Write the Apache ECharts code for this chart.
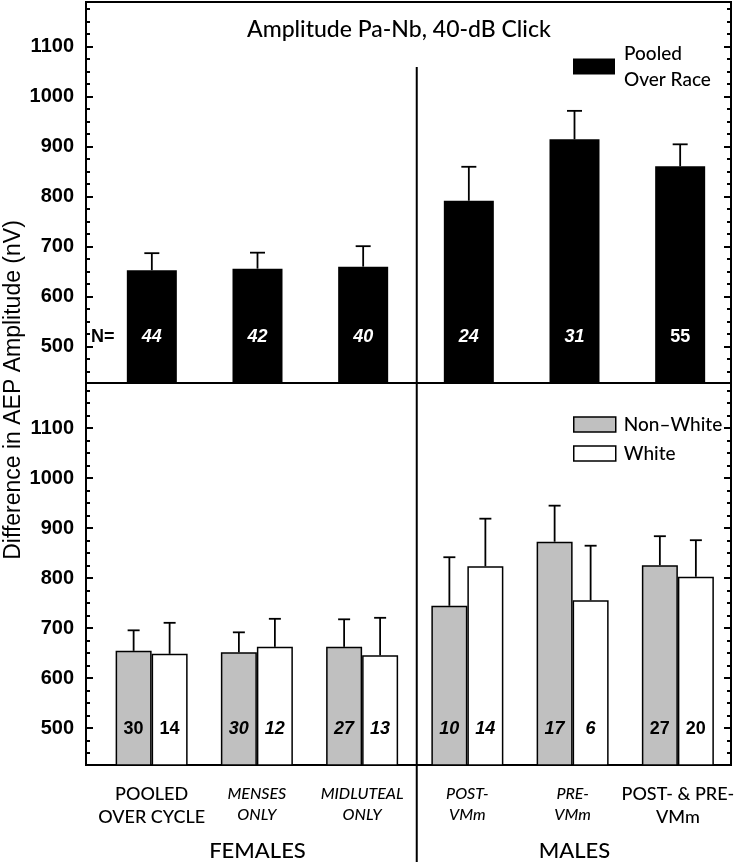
<!DOCTYPE html>
<html><head><meta charset="utf-8">
<script src="https://cdn.jsdelivr.net/npm/echarts@6/dist/echarts.min.js"></script>
<style>html,body{margin:0;padding:0;background:#fff}#c{width:737px;height:862px}</style>
</head><body><div id="c"></div>
<script>
// ---- data ----
const categories = ['POOLED\nOVER CYCLE', 'MENSES\nONLY', 'MIDLUTEAL\nONLY', 'POST-\nVMm', 'PRE-\nVMm', 'POST- & PRE-\nVMm'];
const categoryItalic = [false, true, true, true, true, false];
const groups = ['FEMALES', 'MALES'];

const pooledMean = [653, 656, 660, 792, 915, 861];
const pooledErr  = [34, 32, 41, 68, 57, 44];
const pooledN    = [44, 42, 40, 24, 31, 55];
const pooledNItalic = [true, true, true, true, true, false];

const nonWhiteMean = [655, 652, 663, 745, 873, 826];
const nonWhiteErr  = [41, 40, 55, 97, 72, 58];
const nonWhiteN    = [30, 30, 27, 10, 17, 27];
const whiteMean    = [649, 663, 646, 824, 756, 803];
const whiteErr     = [62, 56, 75, 95, 109, 73];
const whiteN       = [14, 12, 13, 14, 6, 20];
const pairNItalic  = [false, true, true, true, true, false];

const yMajorTicks = [500, 600, 700, 800, 900, 1000, 1100];
const yMinorTicks = [450, 475, 525, 550, 575, 625, 650, 675, 725, 750, 775, 825, 850, 875, 925, 950, 975, 1025, 1050, 1075, 1125, 1150, 1175];
const Y_MIN = 427, Y_MAX = 1190;

const titleText = 'Amplitude Pa-Nb, 40-dB Click';
const yTitle = 'Difference in AEP Amplitude (nV)';

// ---- chart ----
const HELV = "'Liberation Sans', Arial, sans-serif";
const GEO = "Lato, 'Noto Sans', sans-serif";

const chart = echarts.init(document.getElementById('c'), null, {renderer: 'canvas'});

const W = 737;
const FRAME = {left: 86, right: 6};
const DATA = {left: 99, width: 634};
const PANELS = [{top: 2, height: 381}, {top: 383, height: 382}];

const grids = [], xAxes = [], yAxes = [];
function addGrid(g, xOpt, yOpt) {
  grids.push(g);
  const gi = grids.length - 1;
  xAxes.push(Object.assign({type: 'category', gridIndex: gi, data: categories, show: false}, xOpt || {}));
  yAxes.push(Object.assign({type: 'value', gridIndex: gi, min: Y_MIN, max: Y_MAX, show: false}, yOpt || {}));
  return gi;
}

const frameIdx = [], dataIdx = [];
PANELS.forEach(p => {
  frameIdx.push(addGrid(Object.assign({show: true, borderColor: '#000', borderWidth: 2, backgroundColor: 'transparent'}, FRAME, p), null,
    {show: true, position: 'left', splitLine: {show: false}, axisLine: {show: false, onZero: false}, axisTick: {show: false},
     axisLabel: {show: true, customValues: yMajorTicks, formatter: v => String(v), margin: 12, color: '#000', fontFamily: HELV, fontWeight: 'bold', fontSize: 20}}));
  dataIdx.push(addGrid(Object.assign({}, DATA, p)));
});
// category labels on the bottom data grid
Object.assign(xAxes[dataIdx[1]], {show: true, position: 'bottom',
  axisLine: {show: false}, axisTick: {show: false}, splitLine: {show: false},
  axisLabel: {show: true, interval: 0, margin: 18,
    formatter: (v, i) => {
      const key = categoryItalic[i] ? 'it' : 'nm';
      return v.split('\n').map(s => '{' + key + '|' + s + '}').join('\n');
    },
    rich: {
      nm: {fontFamily: GEO, fontSize: 18, fontWeight: 500, lineHeight: 23, color: '#000'},
      it: {fontFamily: GEO, fontSize: 16, fontWeight: 500, fontStyle: 'italic', lineHeight: 21, color: '#000'}
    }}});
// group labels
addGrid(Object.assign({}, DATA, PANELS[1]), {data: groups, show: true, position: 'bottom',
  axisLine: {show: false}, axisTick: {show: false}, splitLine: {show: false},
  axisLabel: {show: true, interval: 0, margin: 75, fontFamily: GEO, fontWeight: 500, fontSize: 22, color: '#000'}});

function errRender(offset, cap) {
  return function (params, api) {
    const i = api.value(0), m = api.value(1), e = api.value(2);
    const p0 = api.coord([i, m]);
    const p1 = api.coord([i, m + e]);
    const x = p0[0] + offset;
    return {type: 'group', children: [
      {type: 'line', shape: {x1: x, y1: p0[1], x2: x, y2: p1[1]}, style: {stroke: '#000', lineWidth: 1.8}},
      {type: 'line', shape: {x1: x - cap / 2, y1: p1[1], x2: x + cap / 2, y2: p1[1]}, style: {stroke: '#000', lineWidth: 1.8}}
    ]};
  };
}
function barData(means, italics) {
  return means.map((v, i) => ({value: v, label: {fontStyle: italics[i] ? 'italic' : 'normal'}}));
}
const nLabel = (arr, color, dist) => ({show: true, position: 'insideBottom', distance: dist, color: color, fontFamily: HELV, fontWeight: 'bold', fontSize: 18,
  formatter: p => String(arr[p.dataIndex])});

const T = dataIdx[0], B = dataIdx[1];
const option = {
  animation: false,
  backgroundColor: '#fff',
  title: {text: titleText, left: 247, top: 18, padding: 0, textStyle: {fontFamily: GEO, fontSize: 23, fontWeight: 500, color: '#000'}},
  grid: grids,
  legend: [
    {data: ['Pooled Over Race'], left: 573, top: 44, padding: 0, icon: 'rect', itemWidth: 42, itemHeight: 16,
     formatter: () => '{a|Pooled}\n{a|Over Race}',
     textStyle: {fontFamily: GEO, fontWeight: 500, fontSize: 19, color: '#000',
       rich: {a: {fontFamily: GEO, fontWeight: 500, fontSize: 19, lineHeight: 26, color: '#000', padding: [0, 0, 0, 4]}}}},
    {data: ['Non\u2013White', 'White'], orient: 'vertical', left: 573, top: 415, padding: 0, icon: 'rect', itemWidth: 42, itemHeight: 15, itemGap: 10,
     itemStyle: {borderColor: '#000', borderWidth: 1.5},
     textStyle: {fontFamily: GEO, fontWeight: 500, fontSize: 19, lineHeight: 15, color: '#000', padding: [0, 0, 0, 3]}}
  ],
  xAxis: xAxes,
  yAxis: yAxes,
  series: [
    {type: 'bar', name: 'Pooled Over Race', xAxisIndex: T, yAxisIndex: T, barWidth: 50,
     data: barData(pooledMean, pooledNItalic), itemStyle: {color: '#000'}, label: nLabel(pooledN, '#fff', 37)},
    {type: 'custom', xAxisIndex: T, yAxisIndex: T, z: 5, renderItem: errRender(0, 15), encode: {x: 0, y: [1, 2]},
     data: pooledMean.map((v, i) => [i, v, pooledErr[i]])},
    {type: 'bar', name: 'Non\u2013White', xAxisIndex: B, yAxisIndex: B, barWidth: 36, barGap: '0%',
     data: barData(nonWhiteMean, pairNItalic), itemStyle: {color: '#c0c0c0', borderColor: '#000', borderWidth: 1.5}, label: nLabel(nonWhiteN, '#000', 28)},
    {type: 'bar', name: 'White', xAxisIndex: B, yAxisIndex: B, barWidth: 36, barGap: '0%',
     data: barData(whiteMean, pairNItalic), itemStyle: {color: '#fff', borderColor: '#000', borderWidth: 1.5}, label: nLabel(whiteN, '#000', 28)},
    {type: 'custom', xAxisIndex: B, yAxisIndex: B, z: 5, renderItem: errRender(-18, 12), encode: {x: 0, y: [1, 2]},
     data: nonWhiteMean.map((v, i) => [i, v, nonWhiteErr[i]])},
    {type: 'custom', xAxisIndex: B, yAxisIndex: B, z: 5, renderItem: errRender(18, 12), encode: {x: 0, y: [1, 2]},
     data: whiteMean.map((v, i) => [i, v, whiteErr[i]])}
  ]
};
chart.setOption(option);

// inward tick marks on both sides of each panel, placed through each panel's y scale
const xL = FRAME.left, xR = W - FRAME.right;
const tickEls = [];
frameIdx.forEach(g => {
  yMinorTicks.concat(yMajorTicks).forEach(v => {
    const len = yMajorTicks.indexOf(v) >= 0 ? 7 : 4;
    const y = Math.round(chart.convertToPixel({yAxisIndex: g}, v));
    tickEls.push({type: 'line', shape: {x1: xL, y1: y, x2: xL + len, y2: y}, style: {stroke: '#000', lineWidth: 2}, z: 10});
    tickEls.push({type: 'line', shape: {x1: xR - len, y1: y, x2: xR, y2: y}, style: {stroke: '#000', lineWidth: 2}, z: 10});
  });
});

// divider between the FEMALES and MALES groups
const c2 = chart.convertToPixel({xAxisIndex: B}, 2);
const c3 = chart.convertToPixel({xAxisIndex: B}, 3);
const divX = (c2 + c3) / 2 + 2;
chart.setOption({
  graphic: tickEls.concat([
    {type: 'line', shape: {x1: divX, y1: 67, x2: divX, y2: 862}, style: {stroke: '#000', lineWidth: 2}, z: 10},
    {type: 'text', x: 91, y: 337, style: {text: 'N=', fontFamily: HELV, fontWeight: 'bold', fontSize: 18, fill: '#000', textVerticalAlign: 'middle'}, z: 10},
    {type: 'text', x: 14, y: 390, rotation: Math.PI / 2,
     style: {text: yTitle, fontFamily: HELV, fontSize: 23, fill: '#000', textAlign: 'center', textVerticalAlign: 'middle'}, z: 10}
  ])
});
</script>
</body></html>
